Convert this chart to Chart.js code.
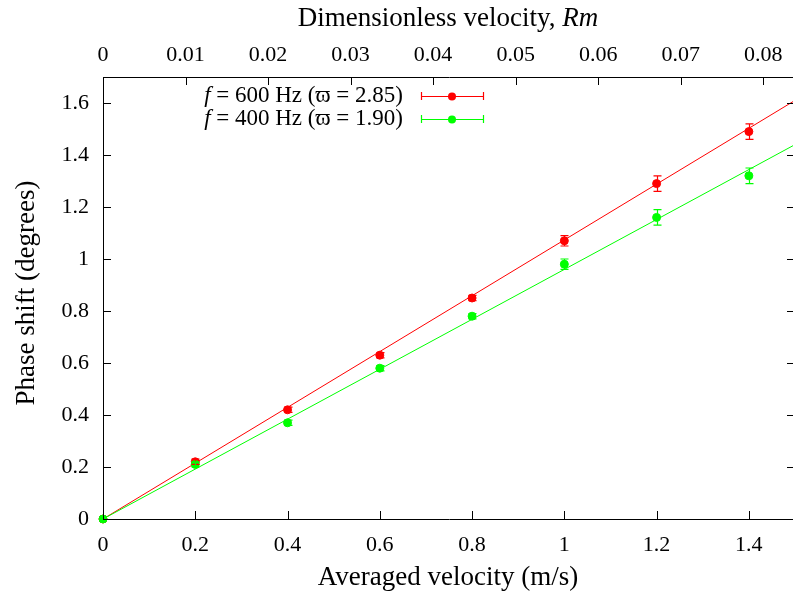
<!DOCTYPE html>
<html>
<head>
<meta charset="utf-8">
<script src="https://cdn.jsdelivr.net/npm/chart.js@4.4.1/dist/chart.umd.min.js"></script>
<style>
  body { margin: 0; background: #fff; overflow: hidden; }
  #wrap { width: 800px; height: 594px; }
</style>
</head>
<body>
<div id="wrap"><canvas id="chart" width="800" height="594"></canvas></div>
<script>
// Données mesurées (vitesse moyenne en m/s)
const velocity = [0, 0.2, 0.4, 0.6, 0.8, 1.0, 1.2, 1.4];
const phase600 = [0, 0.22, 0.42, 0.63, 0.85, 1.07, 1.29, 1.49];
const err600 = [0, 0.01, 0.01, 0.01, 0.01, 0.02, 0.03, 0.03];
const phase400 = [0, 0.21, 0.37, 0.58, 0.78, 0.98, 1.16, 1.32];
const err400 = [0, 0.01, 0.01, 0.01, 0.01, 0.02, 0.03, 0.03];

// Droites d'ajustement
const fitX = [0, 1.5];
const fit600 = [0, 1.61];
const fit400 = [0, 1.44];

// Libellés des axes
const xTickLabels = ['0', '0.2', '0.4', '0.6', '0.8', '1', '1.2', '1.4'];
const rmTickLabels = ['0', '0.01', '0.02', '0.03', '0.04', '0.05', '0.06', '0.07', '0.08'];
const yTickLabels = ['0', '0.2', '0.4', '0.6', '0.8', '1', '1.2', '1.4', '1.6'];
const legendLabels = ['600 Hz (\u03D6 = 2.85)', '400 Hz (\u03D6 = 1.90)'];

const RED = '#ff0000';
const GREEN = '#00ff00';
const SERIF = '"Liberation Serif", "DejaVu Serif", serif';
const rmMax = 1.5 * 0.0559;

const toPoints = (xs, ys) => xs.map((x, i) => ({ x: x, y: ys[i] }));

// Barres d'erreur, ticks intérieurs, titres et légende
const decorPlugin = {
    id: 'decor',
    afterDatasetsDraw(chart) {
        const ctx = chart.ctx;
        const xs = chart.scales.x, ys = chart.scales.y;
        [[phase600, err600, RED], [phase400, err400, GREEN]].forEach(([vals, errs, col]) => {
            ctx.save();
            ctx.strokeStyle = col;
            ctx.lineWidth = 1.2;
            vals.forEach((v, i) => {
                if (!errs[i]) return;
                const px = Math.round(xs.getPixelForValue(velocity[i])) + 0.5;
                const y1 = ys.getPixelForValue(v - errs[i]);
                const y2 = ys.getPixelForValue(v + errs[i]);
                ctx.beginPath();
                ctx.moveTo(px, y1); ctx.lineTo(px, y2);
                ctx.moveTo(px - 4, y1); ctx.lineTo(px + 4, y1);
                ctx.moveTo(px - 4, y2); ctx.lineTo(px + 4, y2);
                ctx.stroke();
            });
            ctx.restore();
        });
    },
    afterDraw(chart) {
        const ctx = chart.ctx;
        const a = chart.chartArea;
        const xs = chart.scales.x, x2 = chart.scales.x2, ys = chart.scales.y;
        ctx.save();
        ctx.strokeStyle = '#000';
        ctx.lineWidth = 1;
        ctx.beginPath();
        xs.ticks.forEach(t => {
            const p = Math.round(xs.getPixelForValue(t.value)) + 0.5;
            ctx.moveTo(p, a.bottom); ctx.lineTo(p, a.bottom - 8);
        });
        x2.ticks.forEach(t => {
            const p = Math.round(x2.getPixelForValue(t.value)) + 0.5;
            ctx.moveTo(p, a.top); ctx.lineTo(p, a.top + 8);
        });
        ys.ticks.forEach(t => {
            const p = Math.round(ys.getPixelForValue(t.value)) + 0.5;
            ctx.moveTo(a.left, p); ctx.lineTo(a.left + 8, p);
            ctx.moveTo(a.right, p); ctx.lineTo(a.right - 8, p);
        });
        ctx.stroke();

        // Titres
        const cx = (a.left + 793) / 2;
        ctx.fillStyle = '#000';
        ctx.textBaseline = 'middle';
        ctx.font = '27px ' + SERIF;
        ctx.textAlign = 'center';
        ctx.fillText('Averaged velocity (m/s)', cx, 578);

        const t1 = 'Dimensionless velocity, ';
        const t2 = 'Rm';
        const w1 = ctx.measureText(t1).width;
        ctx.font = 'italic 27px ' + SERIF;
        const w2 = ctx.measureText(t2).width;
        let sx = cx - (w1 + w2) / 2;
        ctx.textAlign = 'left';
        ctx.font = '27px ' + SERIF;
        ctx.fillText(t1, sx, 19);
        ctx.font = 'italic 27px ' + SERIF;
        ctx.fillText(t2, sx + w1, 19);

        ctx.save();
        ctx.translate(27, 293);
        ctx.rotate(-Math.PI / 2);
        ctx.textAlign = 'center';
        ctx.font = '27px ' + SERIF;
        ctx.fillText('Phase shift (degrees)', 0, 0);
        ctx.restore();

        // Légende
        const rows = [[legendLabels[0], RED, 96], [legendLabels[1], GREEN, 119]];
        rows.forEach(([label, col, y]) => {
            ctx.font = '23px ' + SERIF;
            ctx.textAlign = 'right';
            ctx.fillStyle = '#000';
            ctx.fillText(' = ' + label, 403, y);
            const wl = ctx.measureText(' = ' + label).width;
            ctx.font = 'italic 23px ' + SERIF;
            ctx.fillText('f', 403 - wl, y);
            ctx.strokeStyle = col;
            ctx.fillStyle = col;
            ctx.lineWidth = 1.2;
            ctx.beginPath();
            ctx.moveTo(421, y + 0.5); ctx.lineTo(483, y + 0.5);
            ctx.moveTo(421.5, y - 4); ctx.lineTo(421.5, y + 4);
            ctx.moveTo(483.5, y - 4); ctx.lineTo(483.5, y + 4);
            ctx.stroke();
            ctx.beginPath();
            ctx.arc(452, y + 0.5, 4, 0, Math.PI * 2);
            ctx.fill();
        });
        ctx.restore();
    }
};

new Chart(document.getElementById('chart'), {
    type: 'scatter',
    data: {
        datasets: [
            { data: toPoints(velocity, phase600), backgroundColor: RED, borderColor: RED, pointRadius: 4, showLine: false, clip: false, order: 1 },
            { data: toPoints(velocity, phase400), backgroundColor: GREEN, borderColor: GREEN, pointRadius: 4, showLine: false, clip: false, order: 0 },
            { data: toPoints(fitX, fit600), borderColor: RED, borderWidth: 1, pointRadius: 0, showLine: true, fill: false, order: 3 },
            { data: toPoints(fitX, fit400), borderColor: GREEN, borderWidth: 1, pointRadius: 0, showLine: true, fill: false, order: 2 }
        ]
    },
    options: {
        responsive: false,
        animation: false,
        layout: { padding: { left: 0, right: 5, top: 0, bottom: 0 } },
        plugins: { legend: { display: false }, tooltip: { enabled: false } },
        scales: {
            x: {
                type: 'linear', position: 'bottom', min: 0, max: 1.5,
                afterFit: s => { s.height = 75; },
                afterBuildTicks: s => { s.ticks = velocity.map(v => ({ value: v })); },
                grid: { display: false, drawTicks: false },
                border: { display: true, color: '#000', width: 1 },
                ticks: {
                    padding: 13, color: '#000', maxRotation: 0, autoSkip: false,
                    font: { family: SERIF, size: 22 },
                    callback: (v, i) => xTickLabels[i]
                }
            },
            x2: {
                type: 'linear', position: 'top', min: 0, max: rmMax,
                afterFit: s => { s.height = 77; },
                afterBuildTicks: s => { s.ticks = rmTickLabels.map(t => ({ value: parseFloat(t) })); },
                grid: { display: false, drawTicks: false },
                border: { display: true, color: '#000', width: 1 },
                ticks: {
                    padding: 9, color: '#000', maxRotation: 0, autoSkip: false,
                    font: { family: SERIF, size: 22 },
                    callback: (v, i) => rmTickLabels[i]
                }
            },
            y: {
                type: 'linear', position: 'left', min: 0, max: 1.7,
                afterFit: s => { s.width = 103; },
                afterBuildTicks: s => { s.ticks = yTickLabels.map(t => ({ value: parseFloat(t) })); },
                grid: { display: false, drawTicks: false },
                border: { display: true, color: '#000', width: 1 },
                ticks: {
                    padding: 14, color: '#000', autoSkip: false,
                    font: { family: SERIF, size: 22 },
                    callback: (v, i) => yTickLabels[i]
                }
            }
        }
    },
    plugins: [decorPlugin]
});
</script>
</body>
</html>
